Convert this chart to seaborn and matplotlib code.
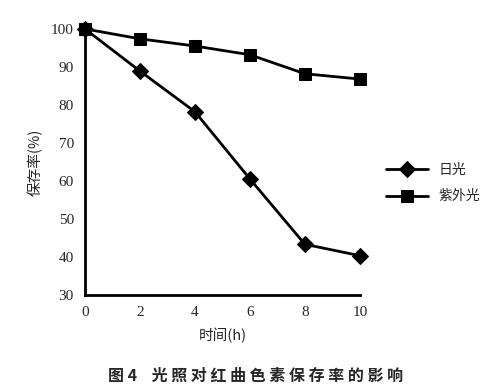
import pandas as pd
import matplotlib
matplotlib.use("Agg")
import matplotlib.pyplot as plt
import seaborn as sns

# -------------------------
# Data
# -------------------------
hours = [0, 2, 4, 6, 8, 10]
sunlight = [100, 88.9, 78.2, 60.5, 43.3, 40.3]
uv_light = [100, 97.4, 95.5, 93.2, 88.2, 86.8]
series_names = ["日光", "紫外光"]

df = pd.DataFrame({
    "时间": hours * 2,
    "保存率": sunlight + uv_light,
    "光源": [series_names[0]] * len(hours) + [series_names[1]] * len(hours),
})

sns.set_style("white")
plt.rcParams["font.family"] = ["Liberation Serif", "Noto Sans CJK SC"]
cjk = ["Noto Sans CJK SC", "DejaVu Sans"]

fig = plt.figure(figsize=(4.91, 3.91), dpi=100)
ax = fig.add_axes([0.173, 0.246, 0.56, 0.68])

sns.lineplot(data=df, x="时间", y="保存率", hue="光源", style="光源",
             palette=["black", "black"], markers=["D", "s"], dashes=False,
             markersize=8.5, linewidth=2, markeredgecolor="black", ax=ax,
             clip_on=False)

ax.set_xlim(0, 10)
ax.set_ylim(30, 100)
ax.set_xticks(hours)
ax.set_yticks(range(30, 101, 10))
ax.tick_params(direction="in", length=5, width=1.5, labelsize=11, pad=8)
for s in ["top", "right"]:
    ax.spines[s].set_visible(False)
for s in ["left", "bottom"]:
    ax.spines[s].set_linewidth(2)
    ax.spines[s].set_color("black")
    ax.spines[s].set_zorder(0)

ax.set_xlabel("时间(h)", family=cjk, fontsize=10.5, labelpad=6)
ax.set_ylabel("保存率(%)", family=cjk, fontsize=10.5, labelpad=6)

leg = ax.legend(loc="center left", bbox_to_anchor=(1.05, 0.42), frameon=False,
                prop={"family": cjk, "size": 10}, handlelength=3, labelspacing=0.9)

fig.text(0.52, 0.025, "图 4    光 照 对 红 曲 色 素 保 存 率 的 影 响", ha="center",
         family=cjk, fontsize=11.5, fontweight="bold")

fig.savefig("out.png", dpi=100)
